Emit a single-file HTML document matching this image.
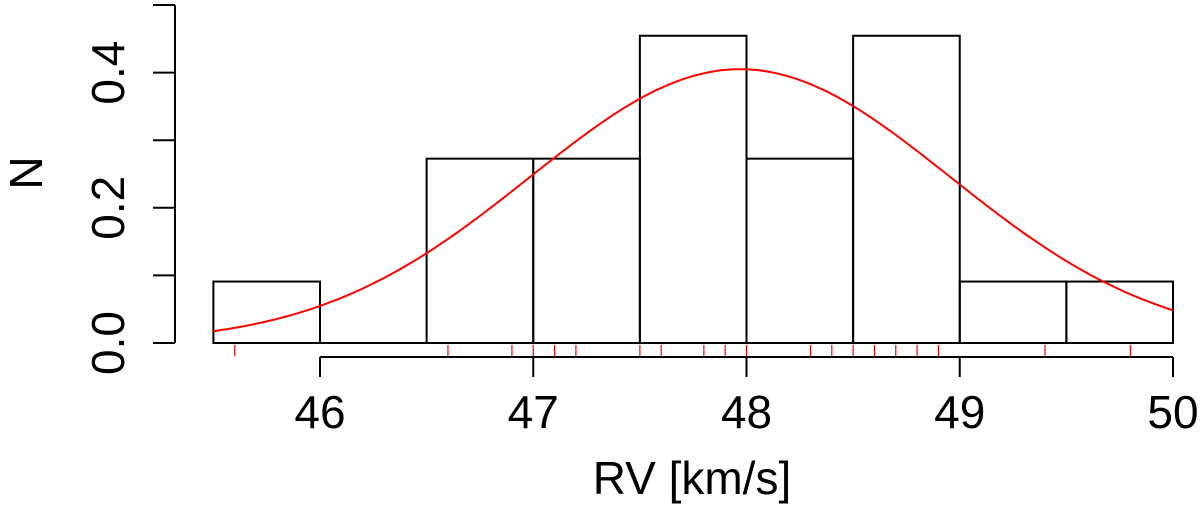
<!DOCTYPE html>
<html><head><meta charset="utf-8"><style>
html,body{margin:0;padding:0;background:#fff;}
svg text{font-family:"Liberation Sans",Arial,sans-serif;fill:#000;}
</style></head><body>
<svg id="chart" width="1200" height="515" viewBox="0 0 1200 515" xmlns="http://www.w3.org/2000/svg">
<g id="bars"></g>
<g id="curve"></g>
<g id="rug"></g>
<g id="xaxis"></g>
<g id="yaxis"></g>
<text x="692" y="494" font-size="46" text-anchor="middle">RV [km/s]</text>
<text x="0" y="0" font-size="46" text-anchor="middle" transform="translate(42,173) rotate(-90)">N</text>
</svg>
<script>
const binEdges = [45.5, 46, 46.5, 47, 47.5, 48, 48.5, 49, 49.5, 50];
const binDensity = [0.0909, 0, 0.2727, 0.2727, 0.4545, 0.2727, 0.4545, 0.0909, 0.0909];
const rugValues = [45.6, 46.6, 46.9, 47.0, 47.1, 47.2, 47.5, 47.6, 47.8, 47.9, 48.0, 48.3, 48.4, 48.5, 48.6, 48.7, 48.8, 48.9, 49.4, 49.8];
const fitMean = [47.97];
const fitSd = [0.985];
const xTicks = [46, 47, 48, 49, 50];
const xTickLabels = ["46", "47", "48", "49", "50"];
const yTicks = [0, 0.1, 0.2, 0.3, 0.4, 0.5];
const yTickLabels = ["0.0", "", "0.2", "", "0.4", ""];

const NS = "http://www.w3.org/2000/svg";
function X(v){ return 320 + (v - 46) * 213.25; }
function Y(v){ return 343 - v * 676; }
function mk(tag, attrs, parent){
  const e = document.createElementNS(NS, tag);
  for (const k in attrs) e.setAttribute(k, attrs[k]);
  parent.appendChild(e); return e;
}
const bars = document.getElementById('bars');
for (let i = 0; i < binDensity.length; i++) {
  const d = binDensity[i];
  if (d <= 0) continue;
  const r = mk('rect', {x: X(binEdges[i]), y: Y(d), width: X(binEdges[i+1]) - X(binEdges[i]), height: Y(0) - Y(d), fill: 'none', stroke: '#000', 'stroke-width': 2}, bars);
  
  
}
const baseline = mk('line', {x1: X(binEdges[0]), x2: X(binEdges[binEdges.length-1]), y1: Y(0), y2: Y(0), stroke: '#000', 'stroke-width': 2}, bars);



const curve = document.getElementById('curve');
let pts = [];
const m = fitMean[0], s = fitSd[0];
for (let v = 45.5; v <= 50.0001; v += 0.02) {
  const d = Math.exp(-0.5 * ((v - m) / s) ** 2) / (Math.sqrt(2 * Math.PI) * s);
  pts.push(X(v).toFixed(1) + ',' + Y(d).toFixed(1));
}
const pl = mk('polyline', {points: pts.join(' '), fill: 'none', stroke: '#f00', 'stroke-width': 2}, curve);



const rug = document.getElementById('rug');
rugValues.forEach(v => {
  const l = mk('line', {x1: X(v), x2: X(v), y1: 345, y2: 356, stroke: '#f00', 'stroke-width': 1.2}, rug);
  
  
});

const xa = document.getElementById('xaxis');
mk('line', {x1: X(xTicks[0]), x2: X(xTicks[xTicks.length-1]), y1: 357, y2: 357, stroke: '#000', 'stroke-width': 2}, xa);
xTicks.forEach((t, i) => {
  mk('line', {x1: X(t), x2: X(t), y1: 357, y2: 377, stroke: '#000', 'stroke-width': 2}, xa);
  const tx = mk('text', {x: X(t), y: 428, 'font-size': 46, 'text-anchor': 'middle'}, xa);
  tx.textContent = xTickLabels[i];
  
  
});

const ya = document.getElementById('yaxis');
mk('line', {x1: 175, x2: 175, y1: Y(yTicks[0]), y2: Y(yTicks[yTicks.length-1]), stroke: '#000', 'stroke-width': 2}, ya);
yTicks.forEach((t, i) => {
  mk('line', {x1: 153, x2: 175, y1: Y(t), y2: Y(t), stroke: '#000', 'stroke-width': 2}, ya);
  if (yTickLabels[i]) {
    const tx = mk('text', {x: 0, y: 0, 'font-size': 46, 'text-anchor': 'middle', transform: 'translate(124,' + Y(t) + ') rotate(-90)'}, ya);
    tx.textContent = yTickLabels[i];
    
    
  }
});
</script>
</body></html>
